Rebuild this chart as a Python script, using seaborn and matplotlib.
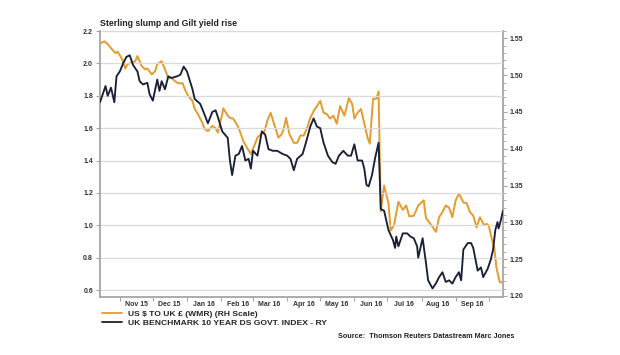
import matplotlib
matplotlib.use("Agg")
import matplotlib.pyplot as plt
import matplotlib.dates as mdates
from matplotlib.ticker import MultipleLocator, FormatStrFormatter, FixedLocator, NullFormatter
from matplotlib.lines import Line2D
import numpy as np
import pandas as pd
import seaborn as sns

# ---------------- data ----------------
gilt_dates = ["2015-10-14","2015-10-19","2015-10-21","2015-10-24","2015-10-27","2015-10-29",
    "2015-11-01","2015-11-04","2015-11-07","2015-11-10","2015-11-13","2015-11-17","2015-11-19",
    "2015-11-22","2015-11-26","2015-11-28","2015-12-01","2015-12-05","2015-12-07","2015-12-09",
    "2015-12-12","2015-12-15","2015-12-18","2015-12-23","2015-12-26","2015-12-29","2016-01-01",
    "2016-01-06","2016-01-08","2016-01-13","2016-01-16","2016-01-20","2016-01-24","2016-01-27",
    "2016-01-29","2016-02-02","2016-02-07","2016-02-09","2016-02-11","2016-02-14","2016-02-17",
    "2016-02-20","2016-02-23","2016-02-26","2016-02-28","2016-03-01","2016-03-05","2016-03-09",
    "2016-03-12","2016-03-15","2016-03-19","2016-03-23","2016-03-28","2016-04-01","2016-04-04",
    "2016-04-07","2016-04-10","2016-04-15","2016-04-18","2016-04-22","2016-04-25","2016-04-28",
    "2016-05-01","2016-05-04","2016-05-08","2016-05-12","2016-05-15","2016-05-18","2016-05-22",
    "2016-05-26","2016-05-29","2016-06-01","2016-06-04","2016-06-08","2016-06-10","2016-06-12",
    "2016-06-14","2016-06-17","2016-06-20","2016-06-23","2016-06-25","2016-06-28","2016-07-02",
    "2016-07-06","2016-07-08","2016-07-09","2016-07-11","2016-07-15","2016-07-19","2016-07-22",
    "2016-07-25","2016-07-28","2016-07-29","2016-08-02","2016-08-05","2016-08-07","2016-08-11",
    "2016-08-14","2016-08-17","2016-08-20","2016-08-23","2016-08-26","2016-08-29","2016-09-01",
    "2016-09-04","2016-09-06","2016-09-08","2016-09-12","2016-09-15","2016-09-17","2016-09-21",
    "2016-09-24","2016-09-26","2016-09-30","2016-10-03","2016-10-05","2016-10-07","2016-10-09",
    "2016-10-10","2016-10-12","2016-10-14"]
gilt_values = [1.76,1.86,1.80,1.85,1.76,1.92,
    1.95,2.00,2.04,2.05,1.99,1.95,1.89,
    1.87,1.88,1.81,1.77,1.90,1.83,1.89,
    1.84,1.92,1.91,1.92,1.93,1.98,1.95,
    1.84,1.78,1.75,1.70,1.63,1.70,1.71,
    1.67,1.58,1.54,1.40,1.31,1.43,1.44,
    1.49,1.40,1.41,1.35,1.46,1.43,1.58,
    1.56,1.47,1.46,1.46,1.44,1.43,1.41,
    1.34,1.41,1.44,1.51,1.61,1.66,1.61,
    1.60,1.51,1.43,1.39,1.38,1.43,1.46,
    1.43,1.43,1.50,1.40,1.40,1.35,1.25,
    1.24,1.31,1.42,1.51,1.10,1.09,0.97,
    0.91,0.86,0.93,0.87,0.95,0.95,0.93,
    0.92,0.87,0.80,0.92,0.77,0.66,0.61,
    0.64,0.68,0.71,0.65,0.66,0.64,0.68,
    0.71,0.66,0.85,0.89,0.89,0.86,0.72,
    0.74,0.68,0.73,0.79,0.85,0.97,1.02,
    0.98,1.03,1.09]

gbp_dates = ["2015-10-14","2015-10-18","2015-10-21","2015-10-25","2015-10-28","2015-10-30",
    "2015-11-03","2015-11-06","2015-11-08","2015-11-12","2015-11-15","2015-11-17","2015-11-21",
    "2015-11-24","2015-11-26","2015-11-30","2015-12-03","2015-12-05","2015-12-09","2015-12-12",
    "2015-12-15","2015-12-18","2015-12-21","2015-12-24","2015-12-28","2015-12-30","2016-01-02",
    "2016-01-06","2016-01-08","2016-01-11","2016-01-15","2016-01-17","2016-01-20","2016-01-24",
    "2016-01-27","2016-01-29","2016-02-02","2016-02-03","2016-02-07","2016-02-09","2016-02-12",
    "2016-02-16","2016-02-18","2016-02-21","2016-02-25","2016-02-28","2016-03-01","2016-03-05",
    "2016-03-08","2016-03-11","2016-03-14","2016-03-17","2016-03-20","2016-03-24","2016-03-27",
    "2016-03-29","2016-03-31","2016-04-03","2016-04-07","2016-04-10","2016-04-13","2016-04-16",
    "2016-04-19","2016-04-22","2016-04-25","2016-04-28","2016-05-01","2016-05-04","2016-05-07",
    "2016-05-10","2016-05-13","2016-05-16","2016-05-19","2016-05-23","2016-05-27","2016-05-30",
    "2016-06-01","2016-06-04","2016-06-07","2016-06-09","2016-06-13","2016-06-15","2016-06-18",
    "2016-06-21","2016-06-23","2016-06-25","2016-06-28","2016-07-02","2016-07-04","2016-07-07",
    "2016-07-11","2016-07-15","2016-07-18","2016-07-21","2016-07-25","2016-07-29","2016-08-03",
    "2016-08-05","2016-08-10","2016-08-14","2016-08-17","2016-08-20","2016-08-23","2016-08-26",
    "2016-08-29","2016-09-01","2016-09-04","2016-09-08","2016-09-11","2016-09-14","2016-09-17",
    "2016-09-20","2016-09-23","2016-09-27","2016-09-29","2016-10-01","2016-10-04","2016-10-06",
    "2016-10-08","2016-10-11","2016-10-14"]
gbp_values = [1.543,1.546,1.542,1.535,1.530,1.532,
    1.522,1.509,1.515,1.517,1.519,1.526,1.512,
    1.508,1.509,1.501,1.505,1.515,1.519,1.508,
    1.496,1.496,1.492,1.489,1.489,1.481,1.472,
    1.465,1.454,1.447,1.435,1.427,1.424,1.431,
    1.428,1.422,1.447,1.455,1.445,1.442,1.441,
    1.431,1.424,1.411,1.400,1.393,1.400,1.415,
    1.420,1.422,1.438,1.449,1.434,1.415,1.420,
    1.428,1.442,1.420,1.408,1.408,1.418,1.418,
    1.428,1.442,1.451,1.458,1.465,1.449,1.447,
    1.441,1.445,1.434,1.458,1.445,1.469,1.461,
    1.441,1.449,1.454,1.441,1.415,1.407,1.468,
    1.468,1.478,1.315,1.350,1.326,1.289,1.296,
    1.328,1.317,1.323,1.308,1.309,1.323,1.330,
    1.306,1.296,1.287,1.307,1.314,1.323,1.320,
    1.307,1.330,1.339,1.327,1.326,1.314,1.309,
    1.293,1.307,1.296,1.298,1.296,1.276,1.266,
    1.239,1.219,1.218]

title = "Sterling slump and Gilt yield rise"
gbp_label = "US $ TO UK £ (WMR) (RH Scale)"
gilt_label = "UK BENCHMARK 10 YEAR DS GOVT. INDEX - RY"
source = "Source:  Thomson Reuters Datastream Marc Jones"

# ---------------- style ----------------
sns.set_style("white")
plt.rcParams['font.family'] = ['Liberation Sans', 'DejaVu Sans']

ORANGE = "#E69B2E"
NAVY = "#1B2038"
GRID = "#DADADA"
SPINE = "#A6A6A6"
TXT = "#333333"

gilt_df = pd.DataFrame({"date": pd.to_datetime(gilt_dates), "value": gilt_values})
gbp_df = pd.DataFrame({"date": pd.to_datetime(gbp_dates), "value": gbp_values})

fig = plt.figure(figsize=(6.2, 3.55), dpi=100)
ax = fig.add_axes([100/620, 1-297/355, 403/620, 266/355])
ax2 = ax.twinx()

sns.lineplot(data=gilt_df, x="date", y="value", ax=ax, color=NAVY, linewidth=1.35, zorder=3)
sns.lineplot(data=gbp_df, x="date", y="value", ax=ax2, color=ORANGE, linewidth=1.4)
ax.set_zorder(ax2.get_zorder() + 1)
ax.patch.set_visible(False)

ax.set_xlim(pd.Timestamp("2015-10-14"), pd.Timestamp("2016-10-14"))
ax.set_ylim(0.557, 2.2)
ax2.set_ylim(1.1986, 1.56)
for a in (ax, ax2):
    a.set_xlabel("")
    a.set_ylabel("")

# left y axis
ax.yaxis.set_major_locator(MultipleLocator(0.2))
ax.yaxis.set_major_formatter(FormatStrFormatter('%.1f'))
ax.yaxis.grid(True, color=GRID, linewidth=0.9)
ax.xaxis.grid(False)
ax.tick_params(axis='y', which='major', direction='out', length=3, width=0.8, color=SPINE,
               labelsize=5, labelcolor=TXT, pad=2, left=True)

# right y axis
ax2.yaxis.set_major_locator(MultipleLocator(0.05))
ax2.yaxis.set_minor_locator(MultipleLocator(0.01))
ax2.yaxis.set_major_formatter(FormatStrFormatter('%.2f'))
ax2.grid(False)
ax2.tick_params(axis='y', which='major', direction='out', length=3, width=0.8, color=SPINE,
                labelsize=5, labelcolor=TXT, pad=2, right=True)
ax2.tick_params(axis='y', which='minor', direction='out', length=2, width=0.6, color=SPINE, right=True)

# x axis: ticks at month starts, labels mid-month
ax.xaxis.set_major_locator(mdates.MonthLocator())
ax.xaxis.set_major_formatter(NullFormatter())
mid = pd.date_range("2015-11-01", "2016-09-01", freq="MS") + pd.Timedelta(days=15)
ax.xaxis.set_minor_locator(FixedLocator(mdates.date2num(mid)))
ax.xaxis.set_minor_formatter(mdates.DateFormatter('%b %y'))
ax.tick_params(axis='x', which='major', direction='out', length=3, width=0.8, color=SPINE, bottom=True)
ax.tick_params(axis='x', which='minor', length=0, labelsize=5, labelcolor=TXT, pad=3)
for lab in ax.xaxis.get_minorticklabels() + ax.get_yticklabels() + ax2.get_yticklabels():
    lab.set_fontweight('bold')

for a in (ax, ax2):
    a.spines['top'].set_visible(False)
    for s in ('left', 'right', 'bottom'):
        a.spines[s].set_color(SPINE)
        a.spines[s].set_linewidth(1.3)
ax.spines['right'].set_visible(False)
ax2.spines['left'].set_visible(False)
ax2.spines['bottom'].set_visible(False)

# title
fig.text(100/620, 1-24/355, title, fontsize=6.3, fontweight='bold', color="#222222",
         ha='left', va='center')

# legend
handles = [Line2D([], [], color=ORANGE, linewidth=1.3), Line2D([], [], color=NAVY, linewidth=1.3)]
fig.legend(handles, [gbp_label, gilt_label], loc='upper left',
           bbox_to_anchor=(102/620, 1-310/355), frameon=False,
           prop={'weight': 'bold', 'size': 6.1}, handlelength=2.36, handletextpad=0.7,
           labelspacing=0.1, borderpad=0, borderaxespad=0)

fig.text(514/620, 1-336/355, source, fontsize=5.2, fontweight='bold', color="#222222",
         ha='right', va='center')

fig.savefig("out.png", dpi=100)
